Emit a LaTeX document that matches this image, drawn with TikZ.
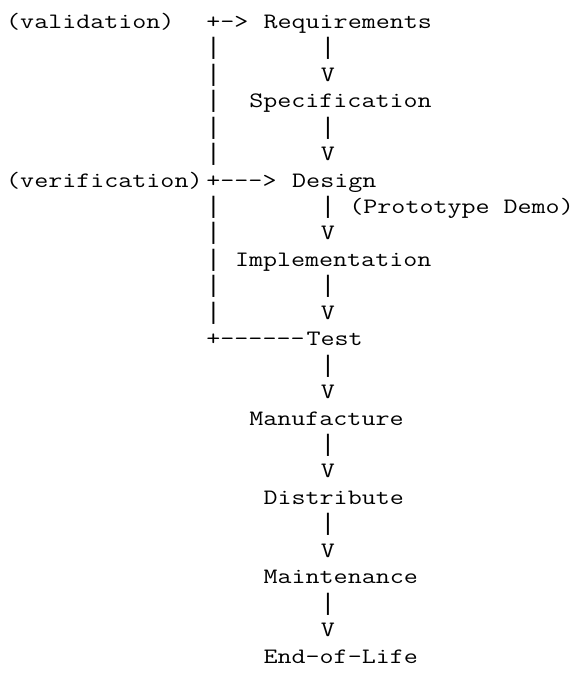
\documentclass[tikz,border=0pt]{standalone}
\usepackage{fontspec}
\setmonofont[FakeStretch=1.238]{Latin Modern Mono}
\newfontfamily\barfont{Liberation Mono}
\usepackage{tikz}

\tikzset{
    ascii/.style={anchor=base west, inner sep=0pt, outer sep=0pt,
        font=\ttfamily\fontsize{22pt}{26.45pt}\selectfont},
    bar/.style={ascii, font=\barfont\fontsize{23.83pt}{26.45pt}\selectfont}
}

\begin{document}
\begin{tikzpicture}[x=14.3pt, y=-26.45pt]
    \useasboundingbox (-6.2pt,28.3pt) rectangle (573.8pt,-652.7pt);
    % validation loop
    \node[ascii] (valid) at (0,0) {(validation)};
    \node[ascii] (vtop) at (14,0) {+->};
    \node[ascii] (req) at (18,0) {Requirements};
    \node[bar] (lbar1) at (14,1) {|};
    \node[bar] (rbar1) at (22,1) {|};
    \node[bar] (lbar2) at (14,2) {|};
    \node[ascii] (rarr1) at (22,2) {V};
    \node[bar] (lbar3) at (14,3) {|};
    \node[ascii] (spec) at (17,3) {Specification};
    \node[bar] (lbar4) at (14,4) {|};
    \node[bar] (rbar2) at (22,4) {|};
    \node[bar] (lbar5) at (14,5) {|};
    \node[ascii] (rarr2) at (22,5) {V};
    % verification loop
    \node[ascii] (verif) at (0,6) {(verification)};
    \node[ascii] (vmid) at (14,6) {+--->};
    \node[ascii] (design) at (20,6) {Design};
    \node[bar] (lbar6) at (14,7) {|};
    \node[bar] (rbar3) at (22,7) {|};
    \node[ascii] (proto) at (24,7) {(Prototype Demo)};
    \node[bar] (lbar7) at (14,8) {|};
    \node[ascii] (rarr3) at (22,8) {V};
    \node[bar] (lbar8) at (14,9) {|};
    \node[ascii] (impl) at (16,9) {Implementation};
    \node[bar] (lbar9) at (14,10) {|};
    \node[bar] (rbar4) at (22,10) {|};
    \node[bar] (lbar10) at (14,11) {|};
    \node[ascii] (rarr4) at (22,11) {V};
    \node[ascii] (vbot) at (14,12) {+------};
    \node[ascii] (test) at (21,12) {Test};
    % after test
    \node[bar] (rbar5) at (22,13) {|};
    \node[ascii] (rarr5) at (22,14) {V};
    \node[ascii] (manuf) at (17,15) {Manufacture};
    \node[bar] (rbar6) at (22,16) {|};
    \node[ascii] (rarr6) at (22,17) {V};
    \node[ascii] (distr) at (18,18) {Distribute};
    \node[bar] (rbar7) at (22,19) {|};
    \node[ascii] (rarr7) at (22,20) {V};
    \node[ascii] (maint) at (18,21) {Maintenance};
    \node[bar] (rbar8) at (22,22) {|};
    \node[ascii] (rarr8) at (22,23) {V};
    \node[ascii] (eol) at (18,24) {End-of-Life};
\end{tikzpicture}
\end{document}
